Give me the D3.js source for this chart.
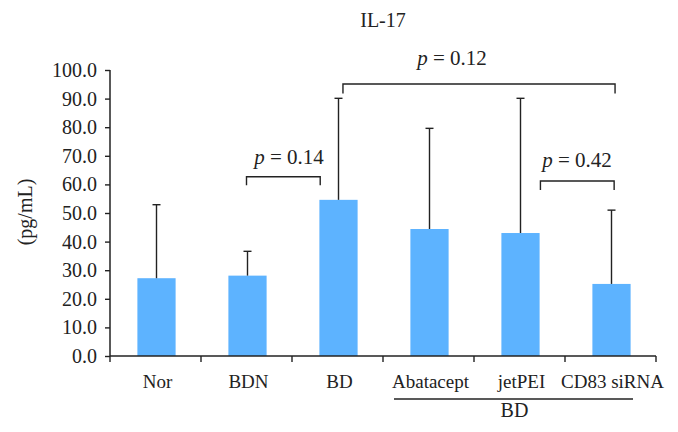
<!DOCTYPE html>
<html>
<head>
<meta charset="utf-8">
<script src="https://cdn.jsdelivr.net/npm/d3@7"></script>
<style>
  html, body { margin: 0; padding: 0; background: #fff; }
  svg { display: block; }
  svg text { font-family: "Liberation Serif", "DejaVu Serif", serif; fill: #222; }
</style>
</head>
<body>
<svg id="chart" width="678" height="432"></svg>
<script>
// ---- data ----
const categories = ["Nor", "BDN", "BD", "Abatacept", "jetPEI", "CD83 siRNA"];
const means = [27.2, 28.1, 54.6, 44.4, 43.0, 25.2];
const errorTops = [52.9, 36.6, 90.1, 79.6, 90.1, 51.0];
const yTicks = [0, 10, 20, 30, 40, 50, 60, 70, 80, 90, 100];
// brackets: start/end/label as fractional category positions, bar level, leg bottom and label baseline in data units
const bracketLabels = ["0.14", "0.12", "0.42"];
const bracketStart = [1.0, 2.06, 4.23];
const bracketEnd = [1.81, 5.05, 5.04];
const bracketTextAt = [1.467, 3.258, 4.632];
const bracketLevel = [62.7, 95.1, 61.2];
const bracketLegEnd = [59.7, 91.8, 58.0];
const bracketTextLevel = [67.1, 101.7, 66.2];
const groupLabel = "BD";
const groupStart = 3; // category index of first grouped item
const groupEnd = 5;
const titleText = "IL-17";
const yLabel = "(pg/mL)";

// ---- layout ----
const FONT = "Liberation Serif, DejaVu Serif, serif";
const svg = d3.select("#chart");
const mLeft = 110, mRight = 656, mTop = 70, mBottom = 356;

const x = d3.scaleBand().domain(categories).range([mLeft, mRight]).paddingInner(0).paddingOuter(0);
const xPos = d3.scaleLinear().domain([0, categories.length]).range([mLeft, mRight]); // fractional positions
const y = d3.scaleLinear().domain([0, 100]).range([mBottom, mTop]);

const barW = x.bandwidth() * 0.42;
const barColor = "#5db3ff";
const ink = "#222";

// title
svg.append("text").attr("x", 383).attr("y", 27).attr("text-anchor", "middle")
  .attr("font-family", FONT).attr("font-size", 20).text(titleText);

// bars
svg.append("g").selectAll("rect").data(categories).join("rect")
  .attr("x", d => x(d) + x.bandwidth() / 2 - barW / 2 + 1)
  .attr("width", barW)
  .attr("y", (d, i) => y(means[i]))
  .attr("height", (d, i) => y(0) - y(means[i]))
  .attr("fill", barColor);

// error bars (upper only)
const eg = svg.append("g").attr("stroke", ink).attr("stroke-width", 1.4);
categories.forEach((c, i) => {
  const cx = x(c) + x.bandwidth() / 2 + 1;
  eg.append("line").attr("x1", cx).attr("x2", cx).attr("y1", y(means[i])).attr("y2", y(errorTops[i]));
  eg.append("line").attr("x1", cx - 4).attr("x2", cx + 4).attr("y1", y(errorTops[i])).attr("y2", y(errorTops[i]));
});

// y axis
const yAxis = d3.axisLeft(y).tickValues(yTicks).tickFormat(d3.format(".1f")).tickSize(5).tickPadding(8);
const gy = svg.append("g").attr("transform", `translate(${mLeft},0)`).call(yAxis)
  .attr("font-family", FONT).attr("font-size", 20);
gy.select(".domain").attr("stroke", ink).attr("stroke-width", 1.5).attr("d", `M0,${y(0)}V${y(100)}`);
gy.selectAll(".tick line").attr("stroke", ink).attr("stroke-width", 1.4);
gy.selectAll(".tick text").attr("font-family", FONT).attr("font-size", 20).attr("fill", ink);

// x axis with ticks between categories (downward)
const gx = svg.append("g");
gx.append("line").attr("x1", mLeft).attr("x2", mRight).attr("y1", mBottom).attr("y2", mBottom)
  .attr("stroke", ink).attr("stroke-width", 1.5);
d3.range(categories.length + 1).forEach(i => {
  gx.append("line").attr("x1", xPos(i)).attr("x2", xPos(i)).attr("y1", mBottom).attr("y2", mBottom + 6)
    .attr("stroke", ink).attr("stroke-width", 1.4);
});
gx.selectAll("text").data(categories).join("text")
  .attr("x", d => x(d) + x.bandwidth() / 2 + 2)
  .attr("y", 388)
  .attr("text-anchor", "middle")
  .attr("font-family", FONT)
  .attr("font-size", 19)
  .text(d => d);

// group underline and label
const gxStart = xPos(groupStart) + 11, gxEnd = xPos(groupEnd + 1) - 23;
svg.append("line").attr("x1", gxStart).attr("x2", gxEnd).attr("y1", 399).attr("y2", 399)
  .attr("stroke", ink).attr("stroke-width", 1.3);
svg.append("text").attr("x", (gxStart + gxEnd) / 2 + 1).attr("y", 417).attr("text-anchor", "middle")
  .attr("font-family", FONT).attr("font-size", 20).text(groupLabel);

// significance brackets
const bg = svg.append("g");
bracketLabels.forEach((p, i) => {
  const x1 = xPos(bracketStart[i] + 0.5), x2 = xPos(bracketEnd[i] + 0.5);
  const yl = y(bracketLevel[i]), ye = y(bracketLegEnd[i]);
  bg.append("path")
    .attr("d", `M${x1},${ye}V${yl}H${x2}V${ye}`)
    .attr("fill", "none").attr("stroke", ink).attr("stroke-width", 1.4);
  const t = bg.append("text").attr("x", xPos(bracketTextAt[i] + 0.5)).attr("y", y(bracketTextLevel[i]))
    .attr("text-anchor", "middle").attr("font-family", FONT).attr("font-size", 21);
  t.append("tspan").attr("font-style", "italic").text("p");
  t.append("tspan").text(" = " + p);
});

// y label
svg.append("text").attr("transform", "translate(32,212) rotate(-90)")
  .attr("text-anchor", "middle").attr("font-family", FONT).attr("font-size", 20).text(yLabel);
</script>
</body>
</html>
